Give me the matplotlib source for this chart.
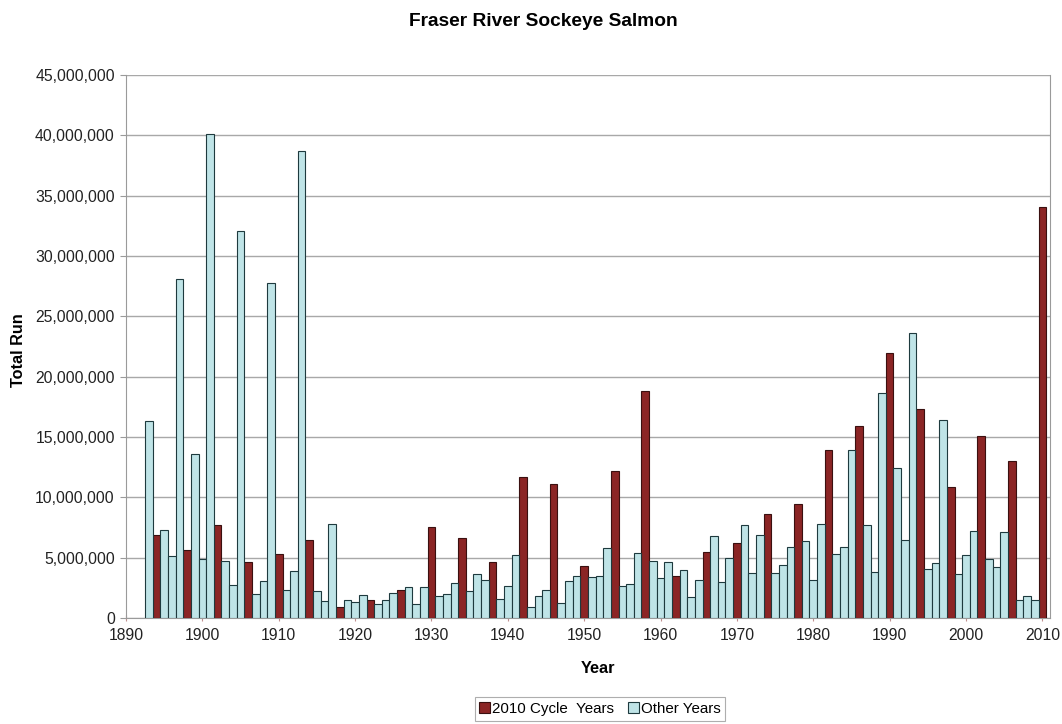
import numpy as np
import matplotlib
matplotlib.use("Agg")
import matplotlib.pyplot as plt
from matplotlib.ticker import FuncFormatter

plt.rcParams['font.family'] = ['Liberation Sans', 'DejaVu Sans']

# total run per year, millions of fish, 1893-2010
years = list(range(1893, 2011))
runs = [16.3, 6.87, 7.33, 5.18, 28.07, 5.64, 13.6, 4.88, 40.15, 7.73,
        4.72, 2.73, 32.06, 4.63, 1.96, 3.04, 27.8, 5.34, 2.36, 3.87,
        38.74, 6.47, 2.2, 1.44, 7.76, 0.92, 1.5, 1.35, 1.9, 1.5,
        1.13, 1.5, 2.05, 2.3, 2.6, 1.2, 2.56, 7.58, 1.86, 2.03,
        2.94, 6.67, 2.22, 3.61, 3.19, 4.61, 1.61, 2.64, 5.25, 11.67,
        0.89, 1.86, 2.31, 11.11, 1.28, 3.06, 3.47, 4.33, 3.36, 3.44,
        5.83, 12.17, 2.69, 2.83, 5.39, 18.83, 4.69, 3.33, 4.67, 3.47,
        3.94, 1.75, 3.11, 5.45, 6.8, 2.95, 4.94, 6.2, 7.73, 3.71,
        6.9, 8.65, 3.71, 4.42, 5.89, 9.48, 6.35, 3.13, 7.79, 13.96,
        5.28, 5.89, 13.93, 15.92, 7.73, 3.83, 18.62, 21.99, 12.42, 6.44,
        23.62, 17.3, 4.02, 4.57, 16.38, 10.89, 3.68, 5.25, 7.21, 15.12,
        4.88, 4.2, 7.09, 13.0, 1.53, 1.81, 1.53, 34.02]

years = np.array(years)
runs = np.array(runs) * 1e6
cycle = (years % 4) == 2   # same cycle line as 2010

red = '#8b2525'
cyan = '#bfe4e7'

fig = plt.figure(figsize=(10.62, 7.24), dpi=100)
ax = fig.add_axes([0.1186, 0.1464, 0.8701, 0.75])

ax.bar(years[cycle], runs[cycle], width=1.0, color=red, edgecolor='#3a1010',
       linewidth=0.8, label='2010 Cycle  Years', zorder=3)
ax.bar(years[~cycle], runs[~cycle], width=1.0, color=cyan, edgecolor='#1e3a3e',
       linewidth=0.8, label='Other Years', zorder=3)

ax.set_xlim(1890, 2011)
ax.set_ylim(0, 45e6)
ax.set_xticks(range(1890, 2011, 10))
ax.set_yticks(np.arange(0, 45e6 + 1, 5e6))
ax.yaxis.set_major_formatter(FuncFormatter(lambda v, p: f'{int(v):,}'))
ax.grid(axis='y', color='#a8a8a8', linewidth=1.0, zorder=0)

for s in ['left', 'bottom', 'right']:
    ax.spines[s].set_color('#9a9a9a')
ax.spines['top'].set_visible(False)
ax.tick_params(axis='y', length=4, color='#9a9a9a', labelsize=11.3, pad=4,
               labelcolor='#222222')
ax.tick_params(axis='x', length=4, direction='inout', color='#c09090',
               labelsize=11.3, pad=5, labelcolor='#222222')

ax.set_xlabel('Year', fontsize=11.8, fontweight='bold')
ax.xaxis.set_label_coords(0.5 + 10 / 924, -0.08)
fig.text(0.017, 0.517, 'Total Run', rotation=90, fontsize=11.7,
         fontweight='bold', ha='center', va='center')
fig.text(0.512, 0.970, 'Fraser River Sockeye Salmon', fontsize=13.8,
         fontweight='bold', ha='center', va='center')

leg = fig.legend(loc='center', bbox_to_anchor=(0.565, 0.0207), ncol=2,
                 fontsize=10.9, handlelength=0.7, handleheight=0.7,
                 handletextpad=0.15, columnspacing=0.9, fancybox=False,
                 edgecolor='#9a9a9a', borderpad=0.3, borderaxespad=0)
leg.get_frame().set_linewidth(0.8)

fig.savefig('out.png', dpi=100)
